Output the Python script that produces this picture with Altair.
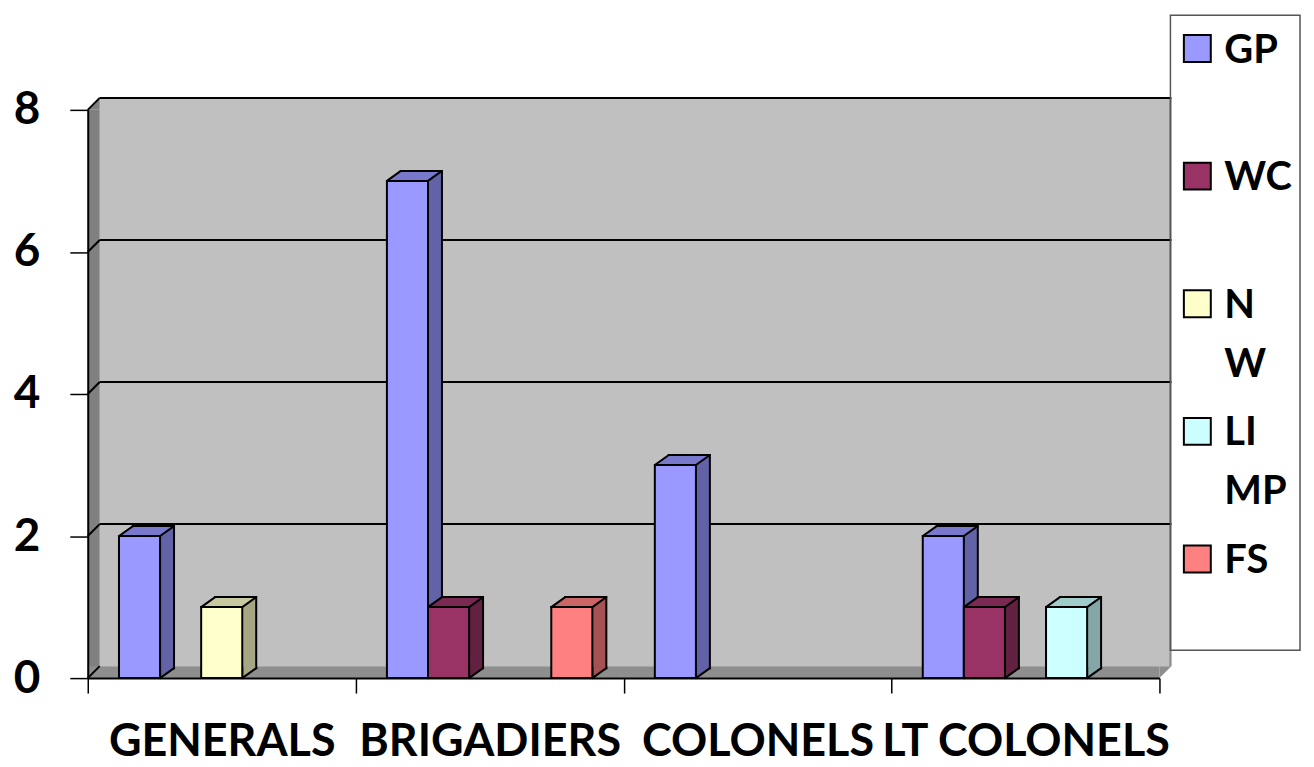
import altair as alt
import pandas as pd

categories = ["GENERALS", "BRIGADIERS", "COLONELS", "LT COLONELS"]
series = ["GP", "WC", "NW", "LIMP", "FS"]
legend_labels = ["GP", "WC", "N\nW", "LI\nMP", "FS"]
gp = [2, 7, 3, 2]
wc = [0, 1, 0, 1]
nw = [1, 0, 0, 0]
limp = [0, 0, 0, 1]
fs = [0, 1, 0, 0]
y_ticks = [0, 2, 4, 6, 8]

front_colors = ["#9999FF", "#993366", "#FFFFCC", "#CCFFFF", "#FF8080"]
top_colors = ["#7878CC", "#7A2952", "#C9C9A1", "#A1CCCC", "#CC6666"]
side_colors = ["#6262A6", "#632142", "#A6A684", "#84A6A6", "#A65252"]

rows = []
for s, vals in zip(series, [gp, wc, nw, limp, fs]):
    for c, v in zip(categories, vals):
        rows.append({"category": c, "series": s, "value": v})
df = pd.DataFrame(rows)
ticks_df = pd.DataFrame({"tick": y_ticks})
leg_df = pd.DataFrame({"series": series, "label": legend_labels})
one = alt.Data(values=[{"k": 0}])

W, H = 1075, 570
BAND = W / len(categories)
PAD_OUT = 0.76
STEP = BAND / (len(series) + 2 * PAD_OUT)
U = STEP / 2
DX, DY = 14, 10
WALL = 12
FONT = "Lato"


def f(v):
    return f"{v:.4f}"


# custom symbol outlines (unit = half a bar width, origin = slot centre)
top_path = (f"M -1 0 L 1 0 L {f(1 + DX / U)} {f(-DY / U)} "
            f"L {f(-1 + DX / U)} {f(-DY / U)} Z")
foot_path = (f"M {f(1 + DX / U)} {f(-(DY + 1.5) / U)} L {f(1 + DX / U)} {f(-DY / U)} "
             f"L 1 0 L 1 {f(-(DY + 1.5) / U)}")
wall_cap_path = "M 0 0 L 1 -1 L 1 0 Z"
floor_cap_path = "M 0 0 L 0 -1 L 1 -1 Z"

yscale = alt.Scale(domain=[0, 8], nice=False, zero=True)
y_axis = alt.Axis(values=y_ticks, title=None, grid=False, domainColor="black",
                  domainWidth=2, tickColor="black", tickWidth=1.5, tickSize=18,
                  labelFont=FONT, labelFontSize=46, labelFontWeight="bold",
                  labelColor="black", labelPadding=30, zindex=1)
x_axis = alt.Axis(title=None, domainColor="black", domainWidth=2, tickColor="black",
                  tickWidth=1.5, tickSize=15, tickBand="extent", labelAngle=0,
                  labelFont=FONT, labelFontSize=45, labelFontWeight="bold",
                  labelColor="black", labelPadding=27, labelLimit=0,
                  labelOverlap=False, zindex=1)

x_enc = alt.X("category:N", sort=categories, axis=x_axis,
              scale=alt.Scale(domain=categories, paddingInner=0, paddingOuter=0))


def xo_enc(shift, **kw):
    return alt.XOffset("series:N", sort=series,
                       scale=alt.Scale(type="band", domain=series, paddingInner=0,
                                       paddingOuter=PAD_OUT, range=[shift, BAND + shift]),
                       **kw)


y_val = alt.Y("value:Q", scale=yscale, axis=y_axis)


def ydatum(v):
    return alt.Y(datum=v, type="quantitative", scale=yscale, axis=y_axis)


def colors(rng):
    return alt.Color("series:N", scale=alt.Scale(domain=series, range=rng), legend=None)


def fills(rng):
    return alt.Fill("series:N", scale=alt.Scale(domain=series, range=rng), legend=None)


# walls
back_wall = alt.Chart(one).mark_rect(color="#C0C0C0", yOffset=-WALL, y2Offset=-WALL).encode(
    x=alt.value(WALL), x2=alt.value(W + WALL), y=ydatum(8), y2=alt.Y2(datum=0))
left_wall = alt.Chart(one).mark_rect(color="#808080").encode(
    x=alt.value(0), x2=alt.value(WALL), y=ydatum(8), y2=alt.Y2(datum=0))
left_cap = alt.Chart(one).mark_point(shape=wall_cap_path, size=(2 * WALL) ** 2, filled=True,
                                     opacity=1, color="#808080").encode(
    x=alt.value(0), y=ydatum(8))
floor = alt.Chart(one).mark_rect(color="#8E8E8E", y2Offset=-WALL).encode(
    x=alt.value(0), x2=alt.value(W), y=ydatum(0), y2=alt.Y2(datum=0))
floor_cap = alt.Chart(one).mark_point(shape=floor_cap_path, size=(2 * WALL) ** 2, filled=True,
                                      opacity=1, color="#8E8E8E").encode(
    x=alt.value(W), y=ydatum(0))
wall_edge = alt.Chart(one).mark_rule(color="#8A8A8A", strokeWidth=2, yOffset=-WALL,
                                     y2Offset=-WALL).encode(
    x=alt.value(W + WALL - 1), y=ydatum(8), y2=alt.Y2(datum=0))
grid = alt.Chart(ticks_df).transform_filter("datum.tick > 0").mark_rule(
    color="black", strokeWidth=2, yOffset=-WALL).encode(
    x=alt.value(WALL), x2=alt.value(W + WALL),
    y=alt.Y("tick:Q", scale=yscale, axis=y_axis))
diag = alt.Chart(ticks_df).mark_rule(color="black", strokeWidth=2, y2Offset=-WALL).encode(
    x=alt.value(0), x2=alt.value(WALL),
    y=alt.Y("tick:Q", scale=yscale, axis=y_axis), y2=alt.Y2("tick:Q"))

# 3-D bars: side box, foot of the side face, top face, front face
base = alt.Chart(df).transform_filter("datum.value > 0")
side = base.mark_bar(yOffset=-DY, y2Offset=-DY, stroke="black", strokeWidth=2, opacity=1).encode(
    x=x_enc, xOffset=xo_enc(DX), y=y_val, y2=alt.Y2(datum=0), color=colors(side_colors))
foot = base.mark_point(shape=foot_path, size=STEP ** 2, filled=True, opacity=1,
                       stroke="black", strokeWidth=2, strokeJoin="round").encode(
    x=x_enc, xOffset=xo_enc(0, bandPosition=0.5), y=ydatum(0), fill=fills(side_colors))
top = base.mark_point(shape=top_path, size=STEP ** 2, filled=True, opacity=1,
                      stroke="black", strokeWidth=2, strokeJoin="round").encode(
    x=x_enc, xOffset=xo_enc(0, bandPosition=0.5), y=y_val, fill=fills(top_colors))
front = base.mark_bar(stroke="black", strokeWidth=2, opacity=1).encode(
    x=x_enc, xOffset=xo_enc(0), y=y_val, y2=alt.Y2(datum=0), color=colors(front_colors))

main = alt.layer(back_wall, left_wall, left_cap, floor, floor_cap, wall_edge, grid, diag,
                 side, foot, top, front).resolve_scale(
    color="independent", fill="independent", xOffset="independent")

# legend
leg_y = alt.Y("series:N", sort=series, axis=None,
              scale=alt.Scale(domain=series, range=[-61.5, 450.5], padding=0))
box = alt.Chart(one).mark_rect(filled=False, stroke="#555555", strokeWidth=1.5).encode(
    x=alt.value(1086), x2=alt.value(1216), y=alt.value(-95), y2=alt.value(542))
symbols = alt.Chart(leg_df).mark_square(size=729, filled=True, opacity=1, stroke="black",
                                        strokeWidth=2).encode(
    x=alt.value(1113), y=leg_y, color=colors(front_colors))
texts = alt.Chart(leg_df).mark_text(align="left", baseline="alphabetic", dy=14, font=FONT,
                                    fontSize=40, fontWeight="bold", color="black",
                                    lineBreak="\n", lineHeight=59).encode(
    x=alt.value(1140), y=leg_y, text="label:N")
legend = alt.layer(box, symbols, texts)

chart = alt.layer(main, legend).resolve_scale(y="independent", color="independent").properties(
    width=W, height=H).configure_view(stroke=None)

chart.save("out.html", embed_options={"renderer": "svg", "actions": False})
